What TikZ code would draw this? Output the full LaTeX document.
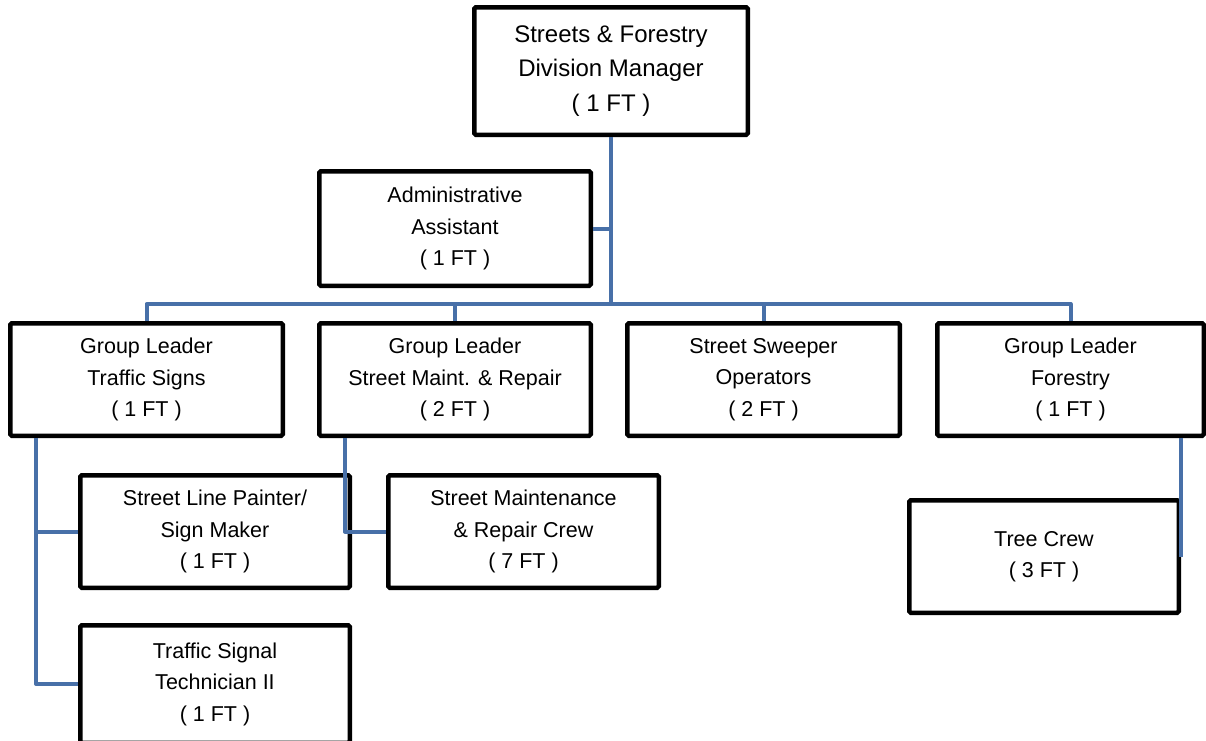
\documentclass[tikz,border=0pt]{standalone}
\usepackage{fontspec}
\setmainfont{Liberation Sans}
\definecolor{linkblue}{RGB}{72,112,168}
\begin{document}
\begin{tikzpicture}[x=1pt,y=-1pt,
  box/.style={draw=black, line width=4.5pt, rounded corners=1.5pt, fill=white,
    align=center, inner sep=0pt, font=\fontsize{21.5}{31.5}\selectfont},
  link/.style={draw=linkblue, line width=4pt, line join=round}]
\useasboundingbox (0,0) rectangle (1206,740);
\clip (0,0) rectangle (1206,740);

% boxes
\node[box, minimum width=273.5pt, minimum height=127.5pt,
      font=\fontsize{24}{34.5}\selectfont] (mgr) at (611,71)
  {Streets \& Forestry\\Division Manager\\( 1 FT )};
\node[box, minimum width=271.5pt, minimum height=114.5pt] (admin) at (455,228.5)
  {Administrative\\Assistant\\( 1 FT )};
\node[box, minimum width=272.5pt, minimum height=112.5pt] (glts) at (146.5,379.5)
  {Group Leader\\Traffic Signs\\( 1 FT )};
\node[box, minimum width=271.5pt, minimum height=112.5pt] (glsm) at (455,379.5)
  {Group Leader\\Street Maint. \& Repair\\( 2 FT )};
\node[box, minimum width=272.5pt, minimum height=112.5pt] (sweep) at (763.5,379.5)
  {Street Sweeper\\Operators\\( 2 FT )};
\node[box, minimum width=266.5pt, minimum height=112.5pt] (glf) at (1070.5,379.5)
  {Group Leader\\Forestry\\( 1 FT )};
\node[box, minimum width=269.5pt, minimum height=112.5pt] (painter) at (215,531.5)
  {Street Line Painter/\\Sign Maker\\( 1 FT )};
\node[box, minimum width=270.5pt, minimum height=112.5pt] (smrc) at (523.5,531.5)
  {Street Maintenance\\\& Repair Crew\\( 7 FT )};
\node[box, minimum width=269.5pt, minimum height=117.5pt] (tsig) at (215,684)
  {Traffic Signal\\Technician II\\( 1 FT )};
\node[box, minimum width=269.5pt, minimum height=112.5pt] (tree) at (1044,556.5)
  {Tree Crew\\( 3 FT )};

% connectors
\coordinate (bus) at (0,304);
\coordinate (tsrail) at ([xshift=28pt]glts.south west);
\coordinate (smrail) at ([xshift=28pt]glsm.south west);

\draw[link] (mgr.south) -- (mgr.south |- bus);
\draw[link] (admin.east) -- (admin.east -| mgr.south);
\draw[link] (glts.north) -- (glts.north |- bus) -- (glf.north |- bus) -- (glf.north);
\draw[link] (glsm.north) -- (glsm.north |- bus);
\draw[link] (sweep.north) -- (sweep.north |- bus);
\draw[link] (tsrail) |- (tsig.west);
\draw[link] (tsrail |- painter.west) -- (painter.west);
\draw[link] (smrail) |- (smrc.west);
\draw[link] (tree.east |- glf.south) -- (tree.east);
\end{tikzpicture}
\end{document}
